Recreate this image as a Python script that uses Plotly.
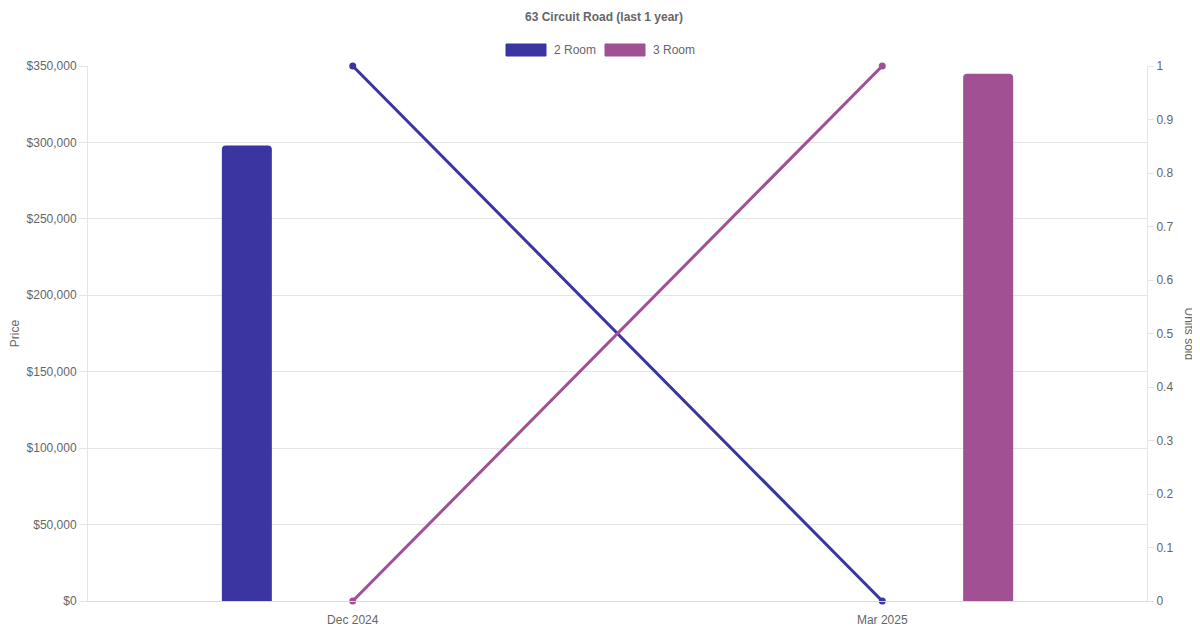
import plotly.graph_objects as go

categories = ["Dec 2024", "Mar 2025"]
series_names = ["2 Room", "3 Room"]
price_2room = [298000, 0]
price_3room = [0, 345000]
units_2room = [1, 0]
units_3room = [0, 1]
price_ticks = [0, 50000, 100000, 150000, 200000, 250000, 300000, 350000]
unit_ticks = [0, 0.1, 0.2, 0.3, 0.4, 0.5, 0.6, 0.7, 0.8, 0.9, 1]

colors = ["#3a35a0", "#a05093"]
xpos = list(range(len(categories)))

bar_w = 0.0944
group_off = 0.2

# figure is placed by the page with an 8px body margin
W, H = 1192, 622
L, R, T, B = 80, 53, 58, 29
PW, PH = W - L - R, H - T - B


def px_x(x):
    return (x - L) / PW


def px_y(y):
    return (H - B - y) / PH


fig = go.Figure()
for i, (name, vals) in enumerate(zip(series_names, [price_2room, price_3room])):
    off = (-group_off if i == 0 else group_off) - bar_w / 2
    fig.add_trace(go.Bar(
        x=xpos, y=vals, name=name, width=bar_w, offset=off,
        marker=dict(color=colors[i], line=dict(width=0)),
        yaxis="y", showlegend=False,
    ))
for i, (name, vals) in enumerate(zip(series_names, [units_2room, units_3room])):
    fig.add_trace(go.Scatter(
        x=xpos, y=vals, name=name, mode="lines+markers",
        line=dict(color=colors[i], width=3),
        marker=dict(color=colors[i], size=7),
        yaxis="y2", showlegend=False, cliponaxis=False,
    ))

font = "Liberation Sans, Arial, sans-serif"
grey = "#666666"

fig.update_layout(
    width=W, height=H,
    margin=dict(l=L, r=R, t=T, b=B, autoexpand=False),
    paper_bgcolor="white", plot_bgcolor="white",
    font=dict(family=font, size=12, color=grey),
    barmode="overlay",
    barcornerradius=4,
    title=dict(text="<b>63 Circuit Road (last 1 year)</b>", x=0.5, xanchor="center",
               y=1 - 9 / H, yanchor="middle", font=dict(size=12, color=grey)),
    xaxis=dict(
        range=[-0.5, 1.5], tickvals=xpos, ticktext=categories, automargin=False,
        showgrid=False, zeroline=False, showline=True, linecolor="#d9d9d9", linewidth=1,
        ticks="", ticklabelstandoff=8, tickfont=dict(color=grey),
    ),
    yaxis=dict(
        range=[0, 350000], tickvals=price_ticks, automargin=False,
        ticktext=["$" + format(v, ",") for v in price_ticks],
        showgrid=True, gridcolor="#e5e5e5", zeroline=False,
        showline=True, linecolor="#e5e5e5", ticks="outside", ticklen=8, tickcolor="#e5e5e5",
        tickfont=dict(color=grey),
        title=dict(text="Price", standoff=9, font=dict(size=12, color=grey)),
    ),
    yaxis2=dict(
        range=[0, 1], tickvals=unit_ticks, automargin=False,
        ticktext=[("%g" % v) for v in unit_ticks],
        overlaying="y", side="right", showgrid=False, zeroline=False,
        showline=True, linecolor="#e5e5e5", ticks="outside", ticklen=6, tickcolor="#e5e5e5",
        tickfont=dict(color=grey),
    ),
    showlegend=False,
)

# Legend drawn as boxes and labels (pixel positions converted to paper coords)
legend_items = [(498, 544, series_names[0], colors[0]), (597, 643, series_names[1], colors[1])]
for x0, tx, label, col in legend_items:
    fig.add_shape(type="rect", xref="paper", yref="paper",
                  x0=px_x(x0), x1=px_x(x0 + 40),
                  y0=px_y(48), y1=px_y(36),
                  fillcolor=col, line=dict(color=col, width=1))
    fig.add_annotation(xref="paper", yref="paper", x=px_x(tx), y=px_y(42),
                       text=label, showarrow=False, xanchor="left", yanchor="middle",
                       font=dict(size=12, color=grey))

fig.add_annotation(xref="paper", yref="paper", x=px_x(1181), y=0.5,
                   text="Units sold", textangle=90, showarrow=False,
                   xanchor="center", yanchor="middle", font=dict(size=12, color=grey))

fig.write_html("out.html")
